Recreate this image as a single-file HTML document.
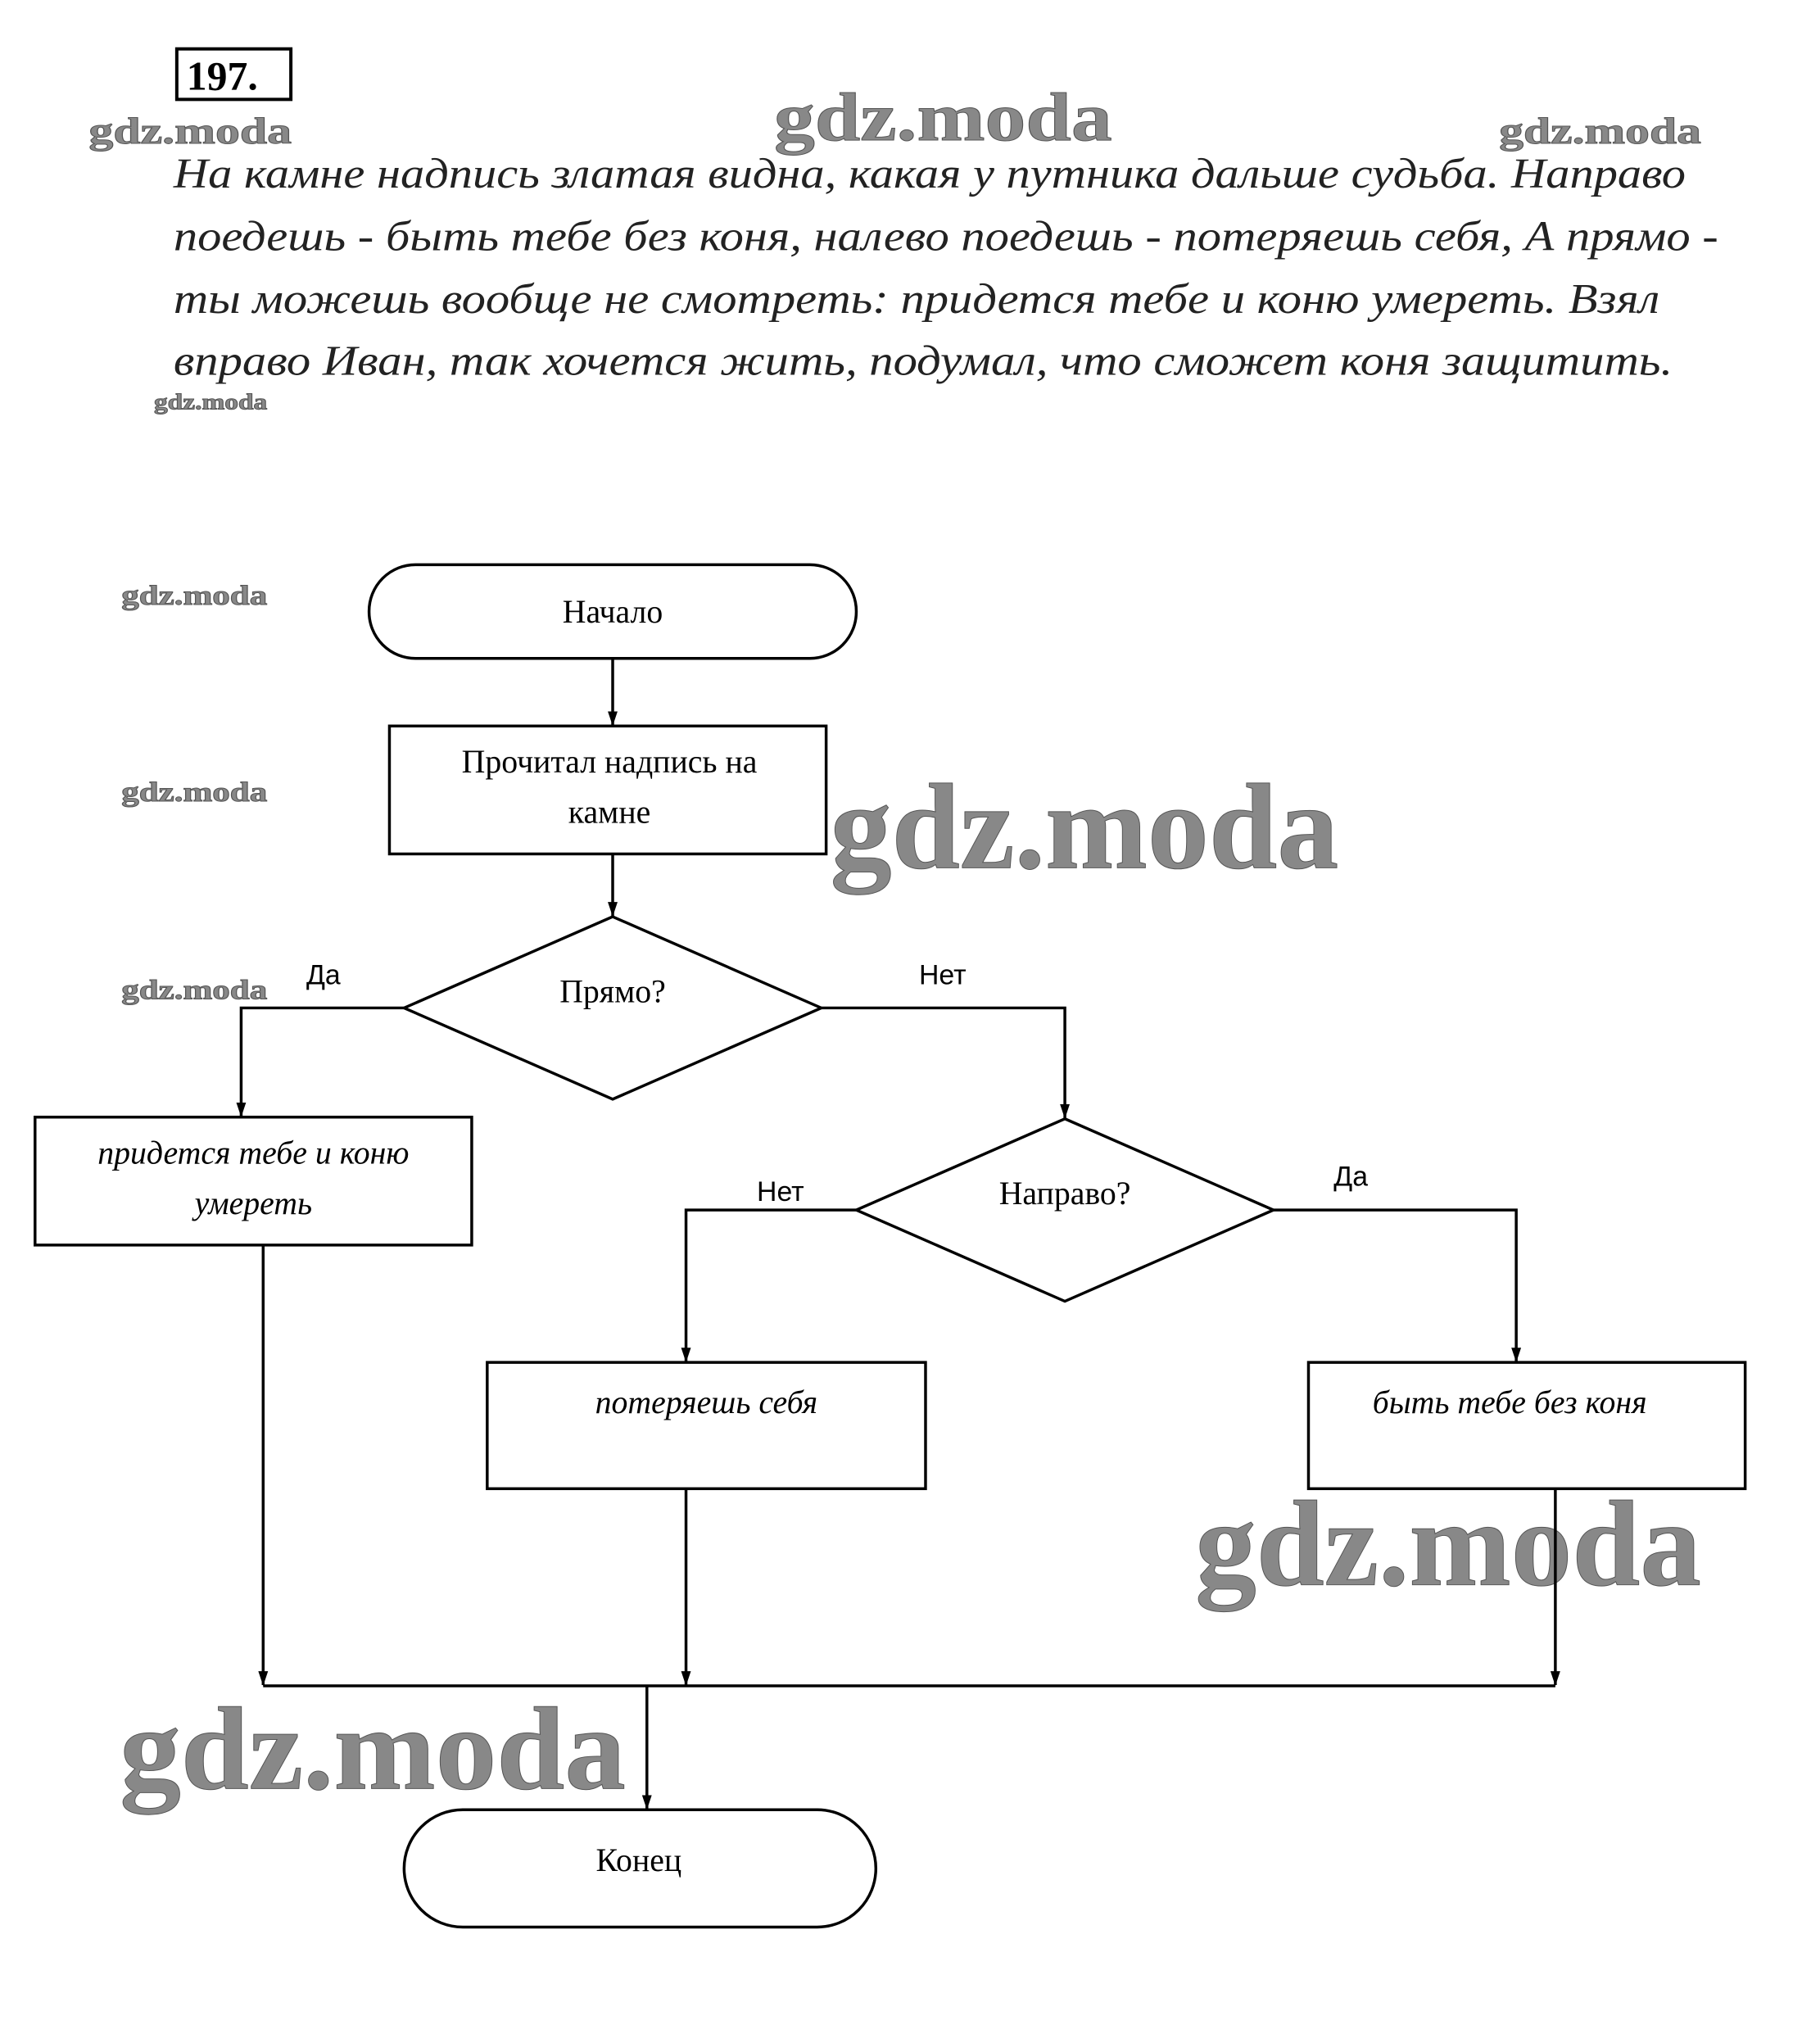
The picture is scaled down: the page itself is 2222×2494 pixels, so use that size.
<!DOCTYPE html>
<html><head><meta charset="utf-8"><style>html,body{margin:0;padding:0;background:#fff}svg{display:block}</style></head><body>
<svg width="2222" height="2494" viewBox="0 0 2222 2494" xmlns="http://www.w3.org/2000/svg">
<defs><marker id="a" markerWidth="12" markerHeight="18" refX="6" refY="17" orient="0" markerUnits="userSpaceOnUse"><path d="M0,0 L12,0 L6,18 z" fill="#000"/></marker></defs>
<g transform="scale(0.9947)">
<g font-family="Liberation Serif, serif" fill="#888" font-weight="bold" stroke="#555" stroke-width="1">
<text x="109" y="176" font-size="46" textLength="249" lengthAdjust="spacingAndGlyphs">gdz.moda</text>
<text x="950" y="172" font-size="84" textLength="415" lengthAdjust="spacingAndGlyphs">gdz.moda</text>
<text x="1840" y="176" font-size="46" textLength="248" lengthAdjust="spacingAndGlyphs">gdz.moda</text>
<text x="189" y="502" font-size="28" textLength="139" lengthAdjust="spacingAndGlyphs">gdz.moda</text>
<text x="149" y="742" font-size="34" textLength="179" lengthAdjust="spacingAndGlyphs">gdz.moda</text>
<text x="149" y="983" font-size="34" textLength="179" lengthAdjust="spacingAndGlyphs">gdz.moda</text>
<text x="149" y="1226" font-size="34" textLength="179" lengthAdjust="spacingAndGlyphs">gdz.moda</text>
<text x="1019" y="1065" font-size="150" textLength="624" lengthAdjust="spacingAndGlyphs">gdz.moda</text>
<text x="1467" y="1945" font-size="150" textLength="621" lengthAdjust="spacingAndGlyphs">gdz.moda</text>
<text x="147" y="2195" font-size="145" textLength="621" lengthAdjust="spacingAndGlyphs">gdz.moda</text>
</g>
<rect x="217" y="60" width="140" height="62" fill="none" stroke="#000" stroke-width="4"/>
<text x="229" y="110" font-family="Liberation Serif, serif" font-weight="bold" font-size="50">197.</text>
<g font-family="Liberation Serif, serif" font-style="italic" font-size="52" fill="#222">
<text x="213" y="230" textLength="1856" lengthAdjust="spacingAndGlyphs">На камне надпись златая видна, какая у путника дальше судьба. Направо</text>
<text x="213" y="307" textLength="1896" lengthAdjust="spacingAndGlyphs">поедешь - быть тебе без коня, налево поедешь - потеряешь себя, А прямо -</text>
<text x="213" y="384" textLength="1824" lengthAdjust="spacingAndGlyphs">ты можешь вообще не смотреть: придется тебе и коню умереть. Взял</text>
<text x="213" y="460" textLength="1840" lengthAdjust="spacingAndGlyphs">вправо Иван, так хочется жить, подумал, что сможет коня защитить.</text>
</g>
<g fill="none" stroke="#000" stroke-width="3.5">
<rect x="453" y="693" width="598" height="115" rx="57" ry="57"/>
<rect x="478" y="891" width="536" height="157"/>
<path d="M752,1125 L1008,1237 L752,1349 L496,1237 Z"/>
<rect x="43" y="1371" width="536" height="157"/>
<path d="M1307,1373 L1563,1485 L1307,1597 L1051,1485 Z"/>
<rect x="598" y="1672" width="538" height="155"/>
<rect x="1606" y="1672" width="536" height="155"/>
<rect x="496" y="2221" width="579" height="144" rx="72" ry="72"/>
<path d="M752,808 V890" marker-end="url(#a)"/>
<path d="M752,1048 V1124" marker-end="url(#a)"/>
<path d="M496,1237 H296 V1370" marker-end="url(#a)"/>
<path d="M1008,1237 H1307 V1372" marker-end="url(#a)"/>
<path d="M1051,1485 H842 V1671" marker-end="url(#a)"/>
<path d="M1563,1485 H1861 V1671" marker-end="url(#a)"/>
<path d="M323,1528 V2068" marker-end="url(#a)"/>
<path d="M842,1827 V2068" marker-end="url(#a)"/>
<path d="M1909,1827 V2068" marker-end="url(#a)"/>
<path d="M323,2069 H1909"/>
<path d="M794,2069 V2220" marker-end="url(#a)"/>
</g>
<g font-family="Liberation Serif, serif" font-size="40" text-anchor="middle" fill="#000">
<text x="752" y="764">Начало</text>
<text x="748" y="948">Прочитал надпись на</text>
<text x="748" y="1010">камне</text>
<text x="752" y="1230">Прямо?</text>
<text x="1307" y="1478">Направо?</text>
<text x="784" y="2296">Конец</text>
</g>
<g font-family="Liberation Serif, serif" font-style="italic" font-size="40" text-anchor="middle" fill="#000">
<text x="311" y="1428">придется тебе и коню</text>
<text x="311" y="1490">умереть</text>
<text x="867" y="1734">потеряешь себя</text>
<text x="1853" y="1734">быть тебе без коня</text>
</g>
<g font-family="Liberation Sans, sans-serif" font-size="34" fill="#000">
<text x="376" y="1208">Да</text>
<text x="1128" y="1208">Нет</text>
<text x="929" y="1474">Нет</text>
<text x="1637" y="1455">Да</text>
</g>
</g>
</svg>
</body></html>
